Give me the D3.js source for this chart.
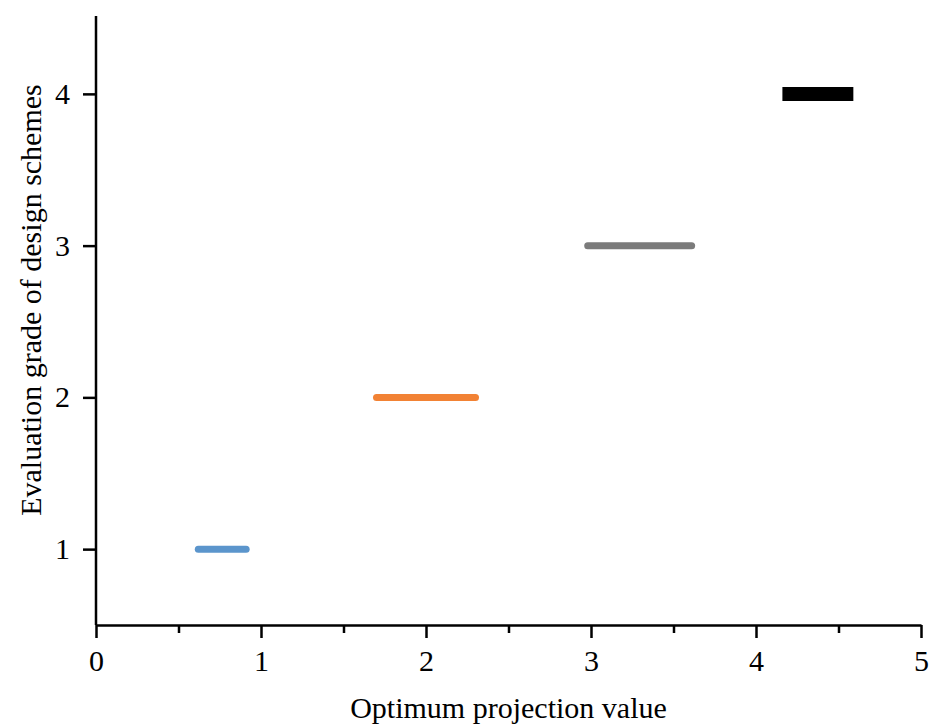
<!DOCTYPE html>
<meta charset="utf-8">
<style>
body { margin: 0; background: #fff; }
svg { display: block; }
.axis path, .axis line { stroke: #000; stroke-width: 2.5px; }
.axis text { font-family: "Liberation Serif", "Times New Roman", serif; font-size: 30px; fill: #000; }
.title { font-family: "Liberation Serif", "Times New Roman", serif; font-size: 30px; fill: #000; }
</style>
<body>
<script src="https://d3js.org/d3.v7.min.js"></script>
<script>

// evaluation grades and the projection-value interval of each
var grades = [1, 2, 3, 4];
var startValues = [0.62, 1.70, 2.98, 4.16];
var endValues = [0.91, 2.30, 3.61, 4.59];
var colors = ["#5b95cc", "#f28234", "#7b7b7b", "#000000"];

var xTicks = [0, 1, 2, 3, 4, 5];
var xMinorTicks = [0.5, 1.5, 2.5, 3.5, 4.5];
var yTicks = [1, 2, 3, 4];

var width = 931, height = 724;
var margin = {top: 16, right: 10, bottom: 99, left: 96};

var x = d3.scaleLinear().domain([0, 5]).range([margin.left, 921]);
var y = d3.scaleLinear().domain([0.5, 4.5]).range([height - margin.bottom, 18]);

var svg = d3.select("body").append("svg")
    .attr("width", width)
    .attr("height", height);

// x axis, with minor ticks
var xAxis = svg.append("g")
    .attr("class", "axis")
    .attr("transform", "translate(0," + y(0.5) + ")")
    .call(d3.axisBottom(x).tickValues(xTicks).tickFormat(d3.format("d")).tickSize(13).tickSizeOuter(0));
xAxis.selectAll("text").attr("y", 25).attr("dy", "0.71em");

svg.append("g")
    .attr("class", "axis")
    .attr("transform", "translate(0," + y(0.5) + ")")
    .call(d3.axisBottom(x).tickValues(xMinorTicks).tickFormat("").tickSize(8))
    .select(".domain").remove();

// y axis
var yAxis = svg.append("g")
    .attr("class", "axis")
    .attr("transform", "translate(" + x(0) + ",0)")
    .call(d3.axisLeft(y).tickValues(yTicks).tickFormat(d3.format("d")).tickSize(13).tickSizeOuter(0));
yAxis.select(".domain").attr("d", "M0," + y(0.5) + "V" + margin.top);
yAxis.selectAll("text").attr("x", -26);

// segments
var segs = grades.map(function(g, i) {
  return {grade: g, start: startValues[i], end: endValues[i], color: colors[i]};
});

svg.append("g").selectAll("line")
    .data(segs)
  .enter().append("line")
    .attr("x1", function(d) { return x(d.start); })
    .attr("x2", function(d) { return x(d.end); })
    .attr("y1", function(d) { return y(d.grade); })
    .attr("y2", function(d) { return y(d.grade); })
    .attr("stroke", function(d) { return d.color; })
    .attr("stroke-width", function(d) { return d.grade == 4 ? 14 : 7; })
    .attr("stroke-linecap", function(d) { return d.grade == 4 ? "butt" : "round"; });

// axis titles
svg.append("text")
    .attr("class", "title")
    .attr("x", (x(0) + x(5)) / 2)
    .attr("y", 718)
    .attr("text-anchor", "middle")
    .text("Optimum projection value");

svg.append("text")
    .attr("class", "title")
    .attr("transform", "translate(41,300) rotate(-90)")
    .attr("text-anchor", "middle")
    .text("Evaluation grade of design schemes");

</script>
